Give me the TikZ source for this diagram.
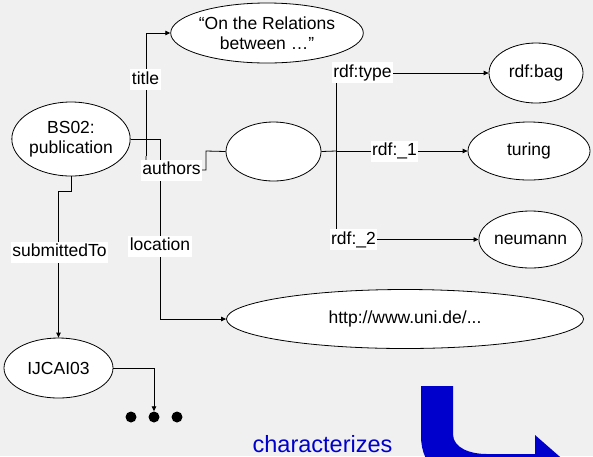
\documentclass[tikz,border=0pt]{standalone}
\usepackage{fontspec}
\setmainfont{Liberation Sans}
\usetikzlibrary{shapes.geometric,arrows.meta}
\definecolor{canvas}{RGB}{240,240,240}
\definecolor{markblue}{RGB}{0,0,204}

\begin{document}
\begin{tikzpicture}[x=1pt,y=-1pt,
  res/.style={ellipse,draw=black,fill=white,line width=0.8pt,inner sep=0pt,
    font=\fontsize{17.5}{20}\selectfont,align=center},
  prop/.style={fill=white,inner xsep=1.5pt,inner ysep=2.5pt,
    text height=12.5pt,text depth=3.5pt,font=\fontsize{17.5}{20}\selectfont},
  conn/.style={line width=0.8pt,draw=black},
  tip/.style={-{Triangle[length=5pt,width=4.5pt]}},
  dot/.style={circle,fill=black,inner sep=0pt,minimum size=11pt},
]
\useasboundingbox (0,0) rectangle (593,456);
\fill[canvas] (0,0) rectangle (593,456);

% resources
\node[res,minimum width=118pt,minimum height=74pt] (bs) at (71,139) {BS02:\\publication};
\node[res,minimum width=188pt,minimum height=60pt] (title) at (267,33) {“On the Relations\\between …\symbol{34}};
\node[res,minimum width=95pt,minimum height=59pt] (blank) at (273.5,151.5) {};
\node[res,minimum width=94pt,minimum height=60pt] (bag) at (536,73) {rdf:bag};
\node[res,minimum width=122pt,minimum height=58pt] (turing) at (529,151) {turing};
\node[res,minimum width=99pt,minimum height=57pt] (neumann) at (530.5,239.5) {neumann};
\node[res,minimum width=357pt,minimum height=59pt] (url) at (405,319) {http://www.uni.de/...};
\node[res,minimum width=109pt,minimum height=60pt] (ijcai) at (58.5,368) {IJCAI03};

% continuation dots
\node[dot] (d1) at (131,417) {};
\node[dot] (d2) at (154,417) {};
\node[dot] (d3) at (177,417) {};

% bend points of the connectors
\coordinate (split) at (146,156);
\coordinate (abend) at (146,170);
\coordinate (lbend) at (160,139);
\coordinate (jn) at (336,151);

% connectors
\draw[conn,tip] (split) |- (title.west);
\draw[conn] (split) -- (abend) -| (206,151) -- (blank.west);
\draw[conn,tip] (bs.east) -- (lbend) |- (url.west);
\draw[conn,tip] (bs.south) -- ++(0,15) -| (ijcai.north);
\draw[conn,tip] (ijcai.east) -| (d2.north);
\draw[conn] (blank.east) -- (jn);
\draw[conn,tip] (jn) -- (turing.west);
\draw[conn,tip] (jn) |- (bag.west);
\draw[conn,tip] (jn) |- (neumann.west);

% property labels
\node[prop] (ltitle) at (145.5,79.5) {title};
\node[prop] (lauthors) at (171.5,170) {authors};
\node[prop] (lloc) at (160,246) {location};
\node[prop] (lsub) at (59.5,252) {submittedTo};
\node[prop] (ltype) at (362.5,72.5) {rdf:type};
\node[prop] (lone) at (394.5,151) {rdf:\_1};
\node[prop] (ltwo) at (353.5,239.5) {rdf:\_2};

% blue bent arrow and its caption
\node[anchor=base,text=markblue,font=\fontsize{23.5}{26}\selectfont,inner sep=0pt] (chr) at (322.5,452) {characterizes};
\begin{scope}
  \clip (0,0) rectangle (593,456);
  \fill[markblue] (421,386) -- (453,386) -- (453,434)
    .. controls (453,448) and (470,454) .. (487,454) -- (535,454) -- (535,435)
    -- (575,470) -- (535,505) -- (535,486) -- (487,486)
    .. controls (445,486) and (421,468) .. (421,436) -- cycle;
\end{scope}
\end{tikzpicture}
\end{document}
